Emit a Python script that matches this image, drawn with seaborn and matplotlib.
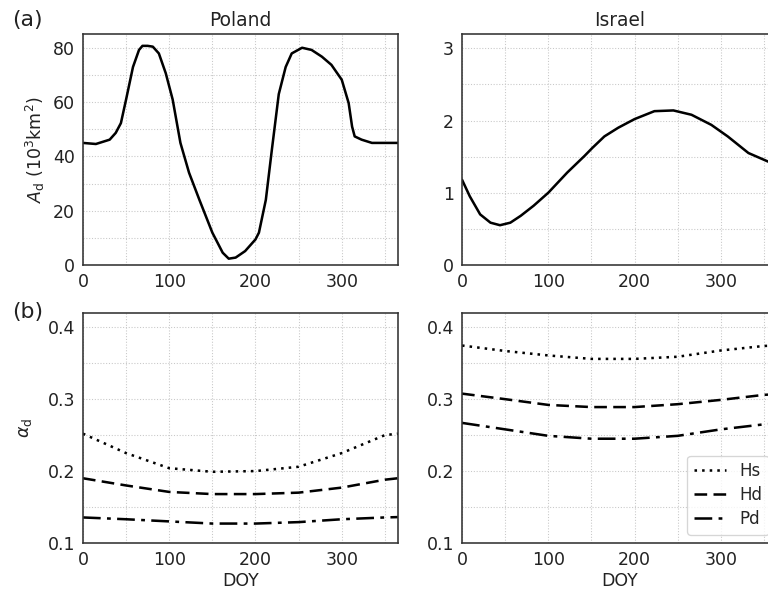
import matplotlib
matplotlib.use("Agg")
import matplotlib.pyplot as plt
from matplotlib.ticker import MultipleLocator
import pandas as pd
import seaborn as sns

# ---- data ----
poland_doy = [0, 15, 31, 38, 44, 50, 58, 65, 69, 75, 81, 88, 96, 104, 113, 123, 135, 150, 162,
              169, 177, 188, 200, 204, 212, 219, 227, 235, 242, 254, 265, 277, 288, 300, 308,
              312, 315, 323, 335, 350, 365]
poland_area = [45.0, 44.6, 46.2, 48.7, 52.3, 61.0, 73.0, 79.3, 80.8, 80.8, 80.5, 78.0, 70.7, 61.0,
               45.0, 34.0, 24.0, 11.9, 4.5, 2.3, 2.7, 5.1, 9.4, 11.9, 24.0, 42.5, 63.0, 73.0,
               78.0, 80.1, 79.3, 76.8, 73.8, 68.3, 59.7, 51.0, 47.4, 46.2, 45.0, 45.0, 45.0]

israel_doy = [0, 9, 21, 33, 44, 56, 68, 83, 100, 122, 142, 151, 165, 181, 200, 223, 245, 266,
              289, 308, 332, 357, 365]
israel_area = [1.18, 0.95, 0.70, 0.585, 0.55, 0.585, 0.68, 0.82, 1.0, 1.28, 1.51, 1.62, 1.78,
               1.90, 2.02, 2.13, 2.14, 2.08, 1.94, 1.78, 1.55, 1.42, 1.36]

albedo_doy = [0, 50, 100, 150, 200, 250, 300, 350, 365]
poland_hs = [0.252, 0.225, 0.204, 0.199, 0.200, 0.206, 0.225, 0.250, 0.252]
poland_hd = [0.190, 0.180, 0.171, 0.168, 0.168, 0.170, 0.177, 0.188, 0.190]
poland_pd = [0.1355, 0.133, 0.130, 0.127, 0.127, 0.129, 0.133, 0.1355, 0.136]
israel_hs = [0.3746, 0.367, 0.3608, 0.356, 0.356, 0.359, 0.3677, 0.374, 0.3746]
israel_hd = [0.3077, 0.300, 0.292, 0.289, 0.289, 0.293, 0.299, 0.306, 0.307]
israel_pd = [0.267, 0.258, 0.249, 0.245, 0.245, 0.249, 0.258, 0.265, 0.266]

series_names = ["Hs", "Hd", "Pd"]
dash_styles = {"Hs": (1, 2), "Hd": (5, 2.5), "Pd": (7, 2.5, 1.5, 2.5)}

TEXT = "#222222"
FS = 13


def albedo_frame(hs, hd, pd_vals):
    rows = []
    for name, vals in zip(series_names, [hs, hd, pd_vals]):
        for d, v in zip(albedo_doy, vals):
            rows.append({"DOY": d, "albedo": v, "type": name})
    return pd.DataFrame(rows)


def style_axis(ax, ymajor, yminor):
    ax.set_xlim(0, 365)
    ax.xaxis.set_major_locator(MultipleLocator(100))
    ax.xaxis.set_minor_locator(MultipleLocator(50))
    ax.yaxis.set_major_locator(MultipleLocator(ymajor))
    ax.yaxis.set_minor_locator(MultipleLocator(yminor))
    ax.grid(True, which="both", linestyle=":", color="#c8c8c8", linewidth=0.8)
    ax.tick_params(which="both", direction="out", color="#333333", labelsize=FS,
                   labelcolor=TEXT, pad=2)
    ax.tick_params(which="major", length=4)
    ax.tick_params(which="minor", length=2.5)
    for sp in ax.spines.values():
        sp.set_color("#333333")
        sp.set_linewidth(1.2)
    ax.set_axisbelow(True)


sns.set_style("white")
plt.rcParams["font.family"] = ["DejaVu Sans"]

fig = plt.figure(figsize=(8, 590 / 96), dpi=96)
w, h = 0.410, 0.3915
ax_pa = fig.add_axes([0.108, 0.551, w, h])
ax_ia = fig.add_axes([0.6016, 0.551, w, h])
ax_pb = fig.add_axes([0.108, 0.0797, w, 0.390])
ax_ib = fig.add_axes([0.6016, 0.0797, w, 0.390])

sns.lineplot(x=poland_doy, y=poland_area, color="black", linewidth=1.9, ax=ax_pa)
sns.lineplot(x=israel_doy, y=israel_area, color="black", linewidth=1.9, ax=ax_ia)

sns.lineplot(data=albedo_frame(poland_hs, poland_hd, poland_pd), x="DOY", y="albedo",
             style="type", dashes=dash_styles, color="black", linewidth=1.9,
             legend=False, ax=ax_pb)
sns.lineplot(data=albedo_frame(israel_hs, israel_hd, israel_pd), x="DOY", y="albedo",
             style="type", dashes=dash_styles, color="black", linewidth=1.9,
             legend="auto", ax=ax_ib)

ax_pa.set_ylim(0, 85.2)
style_axis(ax_pa, 20, 10)
ax_ia.set_ylim(0, 3.2)
style_axis(ax_ia, 1, 0.5)
for ax in (ax_pb, ax_ib):
    ax.set_ylim(0.1, 0.42)
    style_axis(ax, 0.1, 0.05)

ax_pa.set_title("Poland", fontsize=14, color=TEXT, pad=6)
ax_ia.set_title("Israel", fontsize=14, color=TEXT, pad=6)
ax_pa.set_ylabel(r"$A_\mathrm{d}$ ($10^3$km$^2$)", fontsize=FS, color=TEXT, labelpad=4)
ax_pb.set_ylabel(r"$\alpha_\mathrm{d}$", fontsize=FS, color=TEXT, labelpad=10)
ax_ia.set_ylabel("")
ax_ib.set_ylabel("")
for ax in (ax_pa, ax_ia):
    ax.set_xlabel("")
for ax in (ax_pb, ax_ib):
    ax.set_xlabel("DOY", fontsize=FS, color=TEXT, labelpad=2)

leg = ax_ib.legend(loc="lower right", fontsize=12.5, handlelength=1.9, frameon=True,
                   borderaxespad=0.5, labelspacing=0.35)
leg.set_title(None)
leg.get_frame().set_edgecolor("#cccccc")
for line in leg.get_lines():
    line.set_color("black")
    line.set_linewidth(1.9)

fig.text(0.016, 0.966, "(a)", fontsize=16.5, color=TEXT, va="center")
fig.text(0.016, 0.471, "(b)", fontsize=16.5, color=TEXT, va="center")

fig.savefig("out.png", dpi=96)
